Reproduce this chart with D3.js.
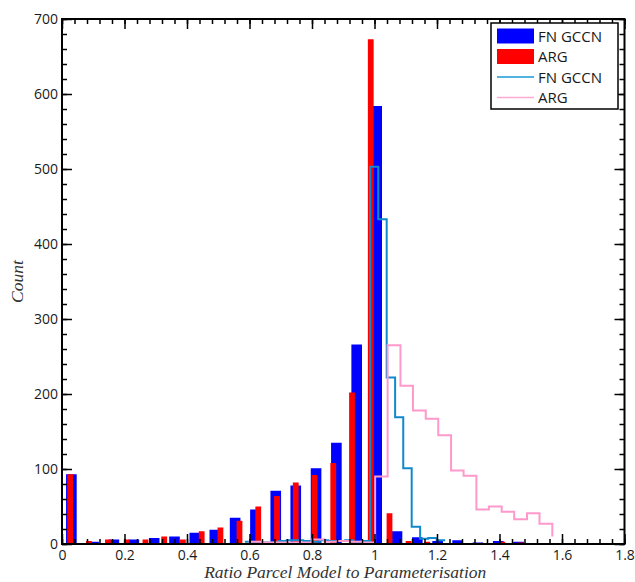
<!DOCTYPE html>
<html>
<head>
<meta charset="utf-8">
<script src="https://cdn.jsdelivr.net/npm/d3@7"></script>
<style>
  body { margin: 0; background: #fff; }
  text { font-family: "Open Sans", sans-serif; }
</style>
</head>
<body>
<div id="chart"></div>
<script>
// histogram bars (bin centres + counts)
var blueX = [0.030, 0.101, 0.166, 0.230, 0.295, 0.360, 0.425, 0.489, 0.554, 0.619, 0.684, 0.748, 0.813,
             0.878, 0.943, 1.007, 1.072, 1.137, 1.202, 1.266, 1.331, 1.396, 1.461, 1.525, 1.590];
var blueCount = [93, 3, 6, 6, 8, 10, 15, 19, 35, 46, 71, 78, 101, 135, 266, 584, 17, 9, 4, 5, 2, 4, 3, 1, 1];

var redX = [0.026, 0.086, 0.147, 0.207, 0.267, 0.327, 0.387, 0.447, 0.507, 0.568, 0.628, 0.688, 0.748,
            0.808, 0.868, 0.928, 0.988, 1.048, 1.109, 1.169, 1.229, 1.289, 1.349, 1.409, 1.469];
var redCount = [93, 4, 6, 6, 6, 10, 6, 17, 22, 31, 50, 64, 82, 92, 108, 202, 673, 41, 4, 3, 1, 1, 1, 3, 2];

// stairs (bin edges + values)
var fnStepX = [0.585, 0.612, 0.639, 0.665, 0.692, 0.719, 0.745, 0.772, 0.799, 0.826, 0.852, 0.879, 0.906,
               0.932, 0.959, 0.986, 1.012, 1.039, 1.066, 1.092, 1.119, 1.146, 1.172, 1.199, 1.226];
var fnStepY = [3, 3, 2, 2, 4, 5, 5, 4, 3, 5, 4, 4, 5, 3, 4, 503, 433, 222, 169, 101, 23, 7, 8, 5, 5];

var argStepX = [0.597, 0.637, 0.678, 0.718, 0.759, 0.799, 0.840, 0.880, 0.921, 0.961, 1.002, 1.042, 1.083,
                1.123, 1.164, 1.204, 1.245, 1.285, 1.326, 1.366, 1.407, 1.447, 1.488, 1.528, 1.569];
var argStepY = [3, 2, 2, 2, 2, 6, 3, 4, 3, 2, 90, 265, 211, 178, 167, 145, 98, 91, 46, 50, 43, 33, 41, 27, 10];

var xTicks = [0, 0.2, 0.4, 0.6, 0.8, 1, 1.2, 1.4, 1.6, 1.8];
var yTicks = [0, 100, 200, 300, 400, 500, 600, 700];
var legendNames = ["FN GCCN", "ARG", "FN GCCN", "ARG"];

var width = 635, height = 582;
var pLeft = 62, pRight = 624.5, pTop = 19, pBottom = 544;

var svg = d3.select("#chart").append("svg")
  .attr("width", width)
  .attr("height", height);

var x = d3.scaleLinear().domain([0, 1.8]).range([pLeft, pRight]);
var y = d3.scaleLinear().domain([0, 700]).range([pBottom, pTop]);

var blueW = 0.034, redW = 0.0185;

// bars
svg.selectAll(".blue").data(blueX).enter().append("rect")
  .attr("x", function(d) { return x(d - blueW / 2); })
  .attr("y", function(d, i) { return y(blueCount[i]); })
  .attr("width", x(blueW) - x(0))
  .attr("height", function(d, i) { return pBottom - y(blueCount[i]); })
  .attr("fill", "#0000ff");

svg.selectAll(".red").data(redX).enter().append("rect")
  .attr("x", function(d) { return x(d - redW / 2); })
  .attr("y", function(d, i) { return y(redCount[i]); })
  .attr("width", x(redW) - x(0))
  .attr("height", function(d, i) { return pBottom - y(redCount[i]); })
  .attr("fill", "#ff0000");

// stairs
var stairs = d3.line()
  .x(function(d) { return x(d[0]); })
  .y(function(d) { return y(d[1]); })
  .curve(d3.curveStepAfter);

svg.append("path")
  .attr("d", stairs(d3.zip(fnStepX, fnStepY)))
  .attr("fill", "none")
  .attr("stroke", "#1088cc")
  .attr("stroke-width", 2);

svg.append("path")
  .attr("d", stairs(d3.zip(argStepX, argStepY)))
  .attr("fill", "none")
  .attr("stroke", "#ff99cc")
  .attr("stroke-width", 2);

// axes - ticks point inwards, mirrored on top/right
var xMinor = d3.range(0, 1.8001, 0.04);
var yMinor = d3.range(0, 701, 20);
var fmt = function(d) { return String(+d.toFixed(2)); };

function styleAxis(g) {
  g.select(".domain").remove();
  g.selectAll("line").attr("stroke", "#000").attr("stroke-width", 1.5);
  g.selectAll("text").attr("fill", "#1a1a1a").style("font-size", "14px").style("font-family", "'Open Sans', sans-serif");
}

svg.append("g").attr("transform", "translate(0," + pBottom + ")")
  .call(d3.axisBottom(x).tickValues(xMinor).tickSize(-5).tickFormat(""))
  .call(styleAxis);
svg.append("g").attr("transform", "translate(0," + pBottom + ")")
  .call(d3.axisBottom(x).tickValues(xTicks).tickSize(-10).tickPadding(6).tickFormat(fmt))
  .call(styleAxis);
svg.append("g").attr("transform", "translate(0," + pTop + ")")
  .call(d3.axisTop(x).tickValues(xMinor).tickSize(-5).tickFormat(""))
  .call(styleAxis);
svg.append("g").attr("transform", "translate(0," + pTop + ")")
  .call(d3.axisTop(x).tickValues(xTicks).tickSize(-10).tickFormat(""))
  .call(styleAxis);

svg.append("g").attr("transform", "translate(" + pLeft + ",0)")
  .call(d3.axisLeft(y).tickValues(yMinor).tickSize(-5).tickFormat(""))
  .call(styleAxis);
svg.append("g").attr("transform", "translate(" + pLeft + ",0)")
  .call(d3.axisLeft(y).tickValues(yTicks).tickSize(-10).tickPadding(4).tickFormat(fmt))
  .call(styleAxis);
svg.append("g").attr("transform", "translate(" + pRight + ",0)")
  .call(d3.axisRight(y).tickValues(yMinor).tickSize(-5).tickFormat(""))
  .call(styleAxis);
svg.append("g").attr("transform", "translate(" + pRight + ",0)")
  .call(d3.axisRight(y).tickValues(yTicks).tickSize(-10).tickFormat(""))
  .call(styleAxis);

svg.append("rect")
  .attr("x", pLeft).attr("y", pTop)
  .attr("width", pRight - pLeft).attr("height", pBottom - pTop)
  .attr("fill", "none").attr("stroke", "#000").attr("stroke-width", 2);

// axis titles
svg.append("text")
  .attr("x", (pLeft + pRight) / 2 + 2)
  .attr("y", 578)
  .attr("text-anchor", "middle")
  .style("font-family", "'Liberation Serif', 'Times New Roman', serif")
  .style("font-style", "italic")
  .style("font-size", "17.5px")
  .attr("fill", "#333")
  .text("Ratio Parcel Model to Parameterisation");

svg.append("text")
  .attr("transform", "translate(23," + (pTop + pBottom) / 2 + ") rotate(-90)")
  .attr("text-anchor", "middle")
  .style("font-family", "'Liberation Serif', 'Times New Roman', serif")
  .style("font-style", "italic")
  .style("font-size", "17.5px")
  .attr("fill", "#333")
  .text("Count");

// legend
var lg = svg.append("g").attr("transform", "translate(491,23)");
lg.append("rect")
  .attr("width", 127).attr("height", 86)
  .attr("fill", "#fff").attr("stroke", "#000").attr("stroke-width", 1.5);

var legendColors = ["#0000ff", "#ff0000", "#1a9ad6", "#ffaad4"];
legendNames.forEach(function(name, i) {
  var cy = 13 + i * 20.5;
  if (i < 2) {
    lg.append("rect")
      .attr("x", 6).attr("y", cy - 7.5)
      .attr("width", 37).attr("height", 15)
      .attr("fill", legendColors[i]);
  } else {
    lg.append("line")
      .attr("x1", 6).attr("x2", 43)
      .attr("y1", cy).attr("y2", cy)
      .attr("stroke", legendColors[i]).attr("stroke-width", 1.5);
  }
  lg.append("text")
    .attr("x", 47).attr("y", cy + 5.5)
    .style("font-size", "15px")
    .attr("fill", "#1a1a1a")
    .text(name);
});
</script>
</body>
</html>
